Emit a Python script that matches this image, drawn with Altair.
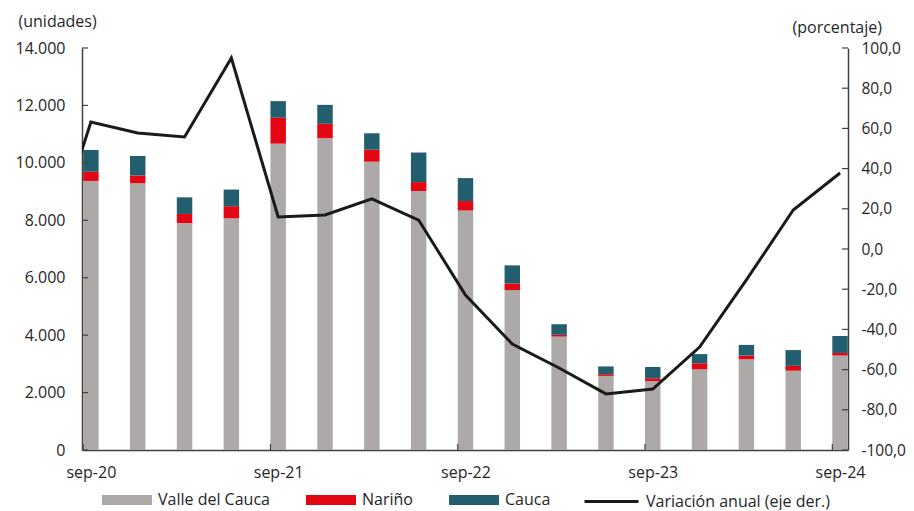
import altair as alt
import pandas as pd

# ---------------- data ----------------
periodos = ["sep-20", "dic-20", "mar-21", "jun-21", "sep-21", "dic-21", "mar-22", "jun-22",
            "sep-22", "dic-22", "mar-23", "jun-23", "sep-23", "dic-23", "mar-24", "jun-24", "sep-24"]
valle = [9370, 9290, 7900, 8070, 10670, 10860, 10040, 9020, 8340, 5570, 3950, 2580, 2400, 2810, 3160, 2760, 3290]
narino = [320, 270, 320, 420, 900, 500, 420, 310, 330, 230, 60, 60, 100, 210, 130, 170, 90]
cauca = [760, 680, 580, 580, 580, 660, 570, 1030, 800, 630, 370, 270, 390, 320, 370, 550, 590]
# annual variation (right axis); first value is jun-20 (only its clipped segment is visible)
variacion_jun20 = -10.0
variacion = [63.2, 57.7, 55.7, 95.0, 15.9, 16.9, 24.9, 14.4, -22.9, -47.3, -59.2, -72.1, -69.7,
             -48.8, -15.4, 19.4, 37.8]

series = ["Valle del Cauca", "Nariño", "Cauca"]
colores = ["#ADA9A8", "#E30613", "#235E6F"]
serie_linea = "Variación anual (eje der.)"
etiquetas_x = ["sep-20", "sep-21", "sep-22", "sep-23", "sep-24"]
ticks_izq = [0, 2000, 4000, 6000, 8000, 10000, 12000, 14000]
ticks_der = [-100, -80, -60, -40, -20, 0, 20, 40, 60, 80, 100]

# ---------------- tables ----------------
rows = []
for i, p in enumerate(periodos):
    base = 0
    for s, vals in zip(series, [valle, narino, cauca]):
        rows.append({"idx": i, "periodo": p, "serie": s, "y0": base, "y1": base + vals[i]})
        base += vals[i]
df_bars = pd.DataFrame(rows)

df_line = pd.DataFrame({
    "idx": list(range(-1, len(periodos))),
    "v": [variacion_jun20] + variacion,
    "linea": serie_linea,
})

label_idx = [periodos.index(l) for l in etiquetas_x]
df_xt = pd.DataFrame({"idx": label_idx})
df_tl = pd.DataFrame({"t": ticks_izq})
df_tr = pd.DataFrame({"t": ticks_der})

# ---------------- styling ----------------
W, H = 766, 402
HALF = 0.165
FONT = "Open Sans"
TXT = "#262626"
AX = "#404040"

xscale = alt.Scale(domain=[-0.19, 16.17], nice=False, zero=False)
yL = alt.Scale(domain=[0, 14000], nice=False)
yR = alt.Scale(domain=[-100, 100], nice=False)

label_expr_x = " : ".join(
    f"datum.value == {i} ? '{l}'" for i, l in zip(label_idx, etiquetas_x)) + " : ''"

x_axis = alt.Axis(values=label_idx, labelExpr=label_expr_x, ticks=False, tickSize=0,
                  grid=False, domainColor=AX, domainWidth=1.5, labelPadding=14,
                  labelFontSize=16, labelFont=FONT, labelColor=TXT, title=None)

yL_axis = alt.Axis(values=ticks_izq, labelExpr="replace(format(datum.value, ',.0f'), ',', '.')",
                   ticks=False, tickSize=0, grid=False, domainColor=AX, domainWidth=1.5,
                   labelPadding=17, labelFontSize=16, labelFont=FONT, labelColor=TXT,
                   title="(unidades)", titleAngle=0, titleX=-64, titleY=-27, titleAlign="left",
                   titleBaseline="middle", titleFontSize=16, titleFontWeight="normal",
                   titleFont=FONT, titleColor=TXT)

yR_axis = alt.Axis(values=ticks_der, orient="right",
                   labelExpr="(datum.value < 0 ? '-' : '') + replace(format(abs(datum.value), '.1f'), '.', ',')",
                   ticks=False, tickSize=0, grid=False, domainColor=AX, domainWidth=1.5,
                   labelPadding=13, labelFontSize=15.5, labelFont=FONT, labelColor=TXT,
                   title="(porcentaje)", titleAngle=0, titleX=-56, titleY=-21, titleAlign="left",
                   titleBaseline="middle", titleFontSize=16, titleFontWeight="normal",
                   titleFont=FONT, titleColor=TXT)

# ---------------- left-axis layer ----------------
bars = alt.Chart(df_bars).transform_calculate(
    x0=f"datum.idx - {HALF}", x1=f"datum.idx + {HALF}"
).mark_bar(clip=True).encode(
    x=alt.X("x0:Q", scale=xscale, axis=x_axis),
    x2="x1:Q",
    y=alt.Y("y0:Q", scale=yL, axis=yL_axis),
    y2="y1:Q",
    fill=alt.Fill("serie:N", scale=alt.Scale(domain=series, range=colores),
                  legend=alt.Legend(orient="none", legendX=20, legendY=427, direction="horizontal",
                                    title=None, symbolType="M-1,-0.2H1V0.2H-1Z", symbolSize=2500,
                                    symbolStrokeWidth=0, labelFontSize=16, labelFont=FONT,
                                    labelColor=TXT, labelOffset=6, columnPadding=36,
                                    labelLimit=300)),
)

lticks = alt.Chart(df_tl).mark_rule(color=AX, strokeWidth=1.2).encode(
    y=alt.Y("t:Q", scale=yL, axis=yL_axis),
    x=alt.value(0), x2=alt.value(6),
)

xticks = alt.Chart(df_xt).transform_calculate(
    p=f"datum.idx - {HALF}"
).mark_rule(color=AX, strokeWidth=1.2).encode(
    x=alt.X("p:Q", scale=xscale, axis=x_axis),
    y=alt.value(H), y2=alt.value(H - 6),
)

left = alt.layer(bars, lticks, xticks)

# ---------------- right-axis layer ----------------
line = alt.Chart(df_line).mark_line(clip=True, strokeWidth=3).encode(
    x=alt.X("idx:Q", scale=xscale, axis=x_axis),
    y=alt.Y("v:Q", scale=yR, axis=yR_axis),
    stroke=alt.Stroke("linea:N", scale=alt.Scale(domain=[serie_linea], range=["#1a1a1a"]),
                      legend=alt.Legend(orient="none", legendX=501, legendY=425, direction="horizontal",
                                        title=None, symbolType="stroke", symbolSize=2916,
                                        symbolStrokeWidth=3, labelFontSize=16, labelFont=FONT,
                                        labelColor=TXT, labelOffset=6, labelLimit=300)),
)

rticks = alt.Chart(df_tr).mark_rule(color=AX, strokeWidth=1.2).encode(
    y=alt.Y("t:Q", scale=yR, axis=yR_axis),
    x=alt.value(W - 6), x2=alt.value(W),
)

right = alt.layer(line, rticks)

chart = alt.layer(left, right).resolve_scale(y="independent").properties(
    width=W, height=H,
    autosize=alt.AutoSizeParams(type="none"),
    padding={"left": 74, "top": 40, "right": 58, "bottom": 60},
).configure_view(stroke=None)

chart.save("out.html", embed_options={"renderer": "svg", "actions": False})
